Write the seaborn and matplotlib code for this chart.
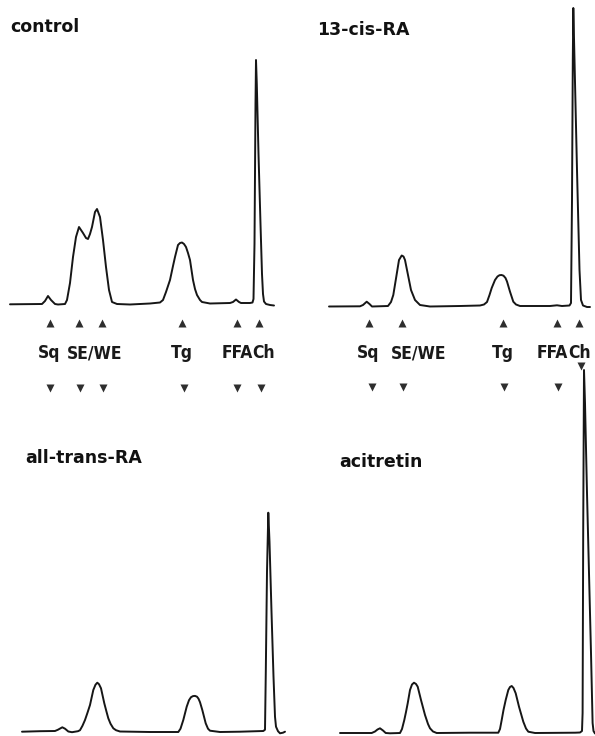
import matplotlib
matplotlib.use("Agg")
import matplotlib.pyplot as plt
from matplotlib import font_manager as fm
import pandas as pd
import seaborn as sns

# ---------------- data (retention position, detector signal) ----------------
control_t = [10, 42, 45, 48, 51, 55, 58, 65, 67, 70, 73, 76, 79, 83, 86, 88, 90, 92, 95, 97,
             100, 103, 106, 109, 112, 117, 130, 150, 160, 163, 166, 170, 173, 175, 178, 180,
             182, 184, 186, 188, 190, 193, 195, 197, 200, 202, 210, 230, 233, 236, 239, 241,
             250, 252.5, 253.5, 254.5, 255.5, 256, 256.8, 258.5, 260.5, 262, 263, 264, 266,
             270, 274]
control_s = [-0.3, 0, 3, 8, 4, 0, -0.5, 0, 4, 21, 47, 67, 77, 71, 66, 65, 70, 77, 92, 95,
             87, 64, 37, 14, 2, 0, -0.5, 0.5, 1.5, 4, 12, 24, 38, 47, 59, 61,
             61.5, 60, 57, 51, 44, 24, 15, 9, 4, 2, 0.5, 1, 2, 4.5, 2, 1,
             1, 1.5, 5, 60, 200, 244, 220, 150, 80, 30, 10, 2.5, 0,
             -1, -1.5]

cis_t = [34, 65, 68, 71.7, 74.5, 77, 93, 96, 98.3, 101, 104, 106.7, 108.5, 110, 113, 116,
         120, 125, 135, 165, 185, 189, 192, 194.5, 196.7, 200, 202.5, 204.5, 206.5, 208.5,
         210.5, 212, 215, 218.3, 221, 225, 255, 262, 267, 274.5, 276, 277, 277.8, 278.3,
         279.5, 282, 284.5, 286, 288, 292, 295]
cis_s = [0, 0.2, 1.5, 4.8, 2.5, 0, 0.5, 4.5, 11.5, 28, 46.5, 51, 50, 46.5, 31.5, 16.5,
         6.5, 1.5, 0, 0.5, 1, 2, 4.5, 11.5, 18.5, 26.5, 30, 31.3, 31.5, 30.8,
         28.5, 25, 14.8, 4.8, 2, 0.5, 0.5, 1.2, 0.5, 1, 3.5, 106.5, 246.5, 298.5,
         246.5, 136.5, 36.5, 6.5, 1, -0.5, -0.5]

trans_t = [22, 40, 55, 58, 62.3, 65, 68.3, 72, 78, 80, 82.5, 85, 87.5, 90, 93.3, 95.5, 97.3,
           99, 101, 104.3, 106.5, 108.3, 110.5, 113.3, 116, 120, 150, 178.3, 180.5, 183.3,
           186.7, 189, 191, 193, 195, 197, 198.5, 200, 202.3, 205.7, 208, 210, 220, 240,
           263.3, 265, 265.8, 267, 268.3, 269.5, 271.5, 273.5, 275, 276, 278, 280, 283, 285]
trans_s = [0, 0.5, 0.7, 2, 4.4, 3, 0.2, -0.5, 0.5, 1.5, 6, 11.7, 19, 26.7, 41.7, 47, 49,
           47.5, 43.4, 28.4, 20, 13.4, 8, 3.4, 1.5, 0.2, -0.3, -0.3, 3, 11.7,
           25, 31.5, 34.5, 35.6, 35.8, 35, 33, 29.5, 21.7, 8.4, 3, 1, -0.3, 0,
           0.7, 2, 60, 160, 219, 190, 120, 55, 15, 5, 0.5, -1.6, -1, 0]

aci_t = [45, 76.7, 80, 82.5, 85, 88, 90.7, 95, 105, 107, 109.3, 111, 112.7, 115, 117, 119,
         121, 122.7, 126, 130, 133, 135, 138, 141.7, 175, 203.3, 205, 206.7, 208.5, 210.7,
         213.3, 215, 216.7, 218.5, 220.7, 224, 228.3, 231, 233.3, 240, 280, 285, 287, 287.6,
         288.2, 289, 290, 292, 294, 296, 297.6, 298.5, 300]
aci_s = [0, 0, 1.5, 3.5, 4.7, 2.5, 0, -0.3, 0, 4, 13, 21, 29.7, 43, 48.5, 50.3,
         49, 46.3, 33, 18, 9, 4.7, 1.5, 0, 0.3, 0.3, 4, 13, 23, 33,
         43, 46, 47, 45, 39.7, 26.3, 11.3, 4.5, 1.3, 0, 0.3, 0.5, 2, 20,
         200, 363, 330, 240, 160, 80, 10, 2, -0.5]

panel_titles = ["control", "13-cis-RA", "all-trans-RA", "acitretin"]

# peak marker positions (retention position) for the two upper traces
control_up = [50, 79, 102, 182, 237, 259]
control_down = [50, 80, 103, 184, 237, 261]
cis_up = [74.3, 107.3, 208.3, 262.3, 284.3]
cis_down = [76.7, 107.7, 209, 263.3]
cis_ch_down = [285.7]

fraction_names = ["Sq", "SE/WE", "Tg", "FFA", "Ch"]
control_label_t = [49, 95, 182, 237, 263.5]
cis_label_t = [73.3, 124, 208, 257.5, 284.5]

# ---------------- styling ----------------
sns.set_theme(style="white")
names = {f.name for f in fm.fontManager.ttflist}
has_dv_cond = any("condensed" in str(f.stretch).lower() and f.name == "DejaVu Sans"
                  for f in fm.fontManager.ttflist)
if "Liberation Sans Narrow" in names:
    LAB = dict(family=["Liberation Sans Narrow", "DejaVu Sans"], weight="bold")
elif has_dv_cond:
    LAB = dict(family=["DejaVu Sans"], fontstretch="condensed", weight="bold")
else:
    LAB = dict(family=["DejaVu Sans"], weight="bold")
TIT = dict(family=["DejaVu Sans"], weight="bold")
plt.rcParams["font.family"] = ["DejaVu Sans"]

W, H = 595, 736
fig = plt.figure(figsize=(W / 100, H / 100), dpi=100)
fig.patch.set_facecolor("white")

LINE = "#161616"
MARK = "#2e2e2e"


def make_ax(x0, y0, w, h, base):
    ax = fig.add_axes([x0 / W, 1 - (y0 + h) / H, w / W, h / H])
    ax.set_xlim(0, w)
    ax.set_ylim(base - (y0 + h), base - y0)
    ax.set_axis_off()
    ax.patch.set_alpha(0)
    return ax


def trace(ax, t, s):
    df = pd.DataFrame({"t": t, "s": s})
    sns.lineplot(data=df, x="t", y="s", ax=ax, sort=False, estimator=None,
                 color=LINE, linewidth=1.4, clip_on=False)


ax1 = make_ax(0, 0, 295, 400, 304)
ax2 = make_ax(295, 0, 300, 400, 306.5)
ax3 = make_ax(0, 400, 295, 336, 731.7)
ax4 = make_ax(295, 360, 300, 376, 733)

trace(ax1, control_t, control_s)
trace(ax2, cis_t, cis_s)
trace(ax3, trans_t, trans_s)
trace(ax4, aci_t, aci_s)

ms = 6.0
# control markers / labels
ax1.plot(control_up, [-19] * len(control_up), "^", ms=ms, color=MARK, mec="none", clip_on=False)
ax1.plot(control_down, [-84] * len(control_down), "v", ms=ms, color=MARK, mec="none", clip_on=False)
for t, name in zip(control_label_t, fraction_names):
    ax1.text(t, -54, name, ha="center", va="baseline", fontsize=12.5, color="#1a1a1a", **LAB)

# 13-cis markers / labels
ax2.plot(cis_up, [-16.8] * len(cis_up), "^", ms=ms, color=MARK, mec="none", clip_on=False)
ax2.plot(cis_down, [-80.5] * len(cis_down), "v", ms=ms, color=MARK, mec="none", clip_on=False)
ax2.plot(cis_ch_down, [-59.5], "v", ms=ms, color=MARK, mec="none", clip_on=False)
for t, name in zip(cis_label_t, fraction_names):
    ax2.text(t, -51.5, name, ha="center", va="baseline", fontsize=12.5, color="#1a1a1a", **LAB)

# panel titles
title_pos = [(10, 31.5), (317, 35), (25, 463.5), (339, 466.5)]
for (x, y), txt in zip(title_pos, panel_titles):
    fig.text(x / W, 1 - y / H, txt, ha="left", va="baseline", fontsize=12.5,
             color="#111111", **TIT)

fig.savefig("out.png", dpi=100, facecolor="white")
